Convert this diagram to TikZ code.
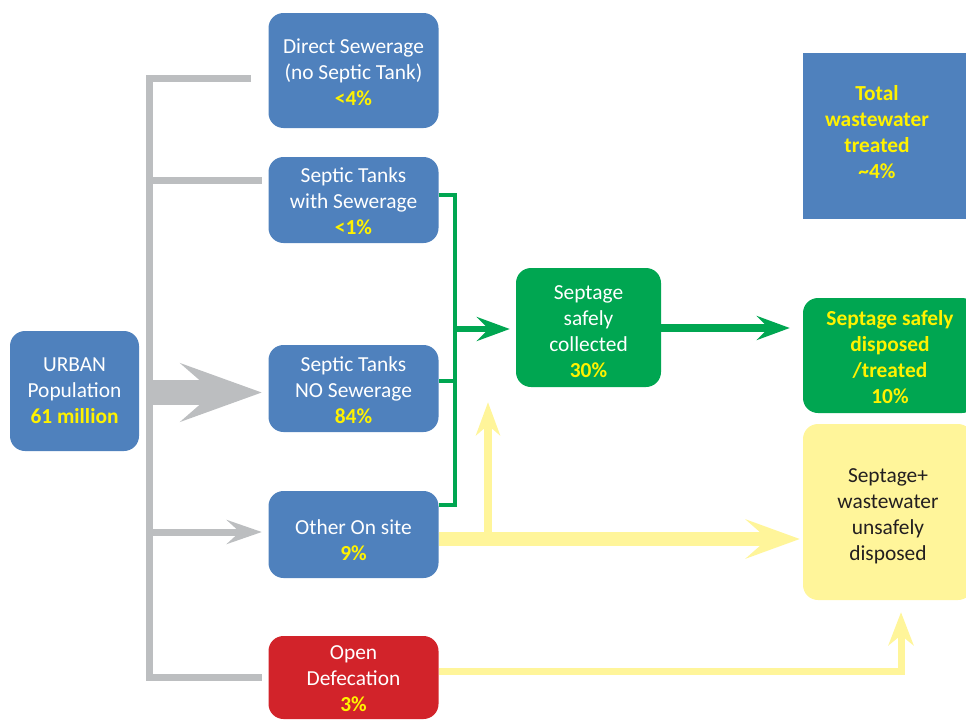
\documentclass[tikz,border=0pt]{standalone}
\usepackage{fontspec}
\setmainfont{Carlito}
\usetikzlibrary{arrows.meta}
\definecolor{boxblue}{HTML}{4F81BD}
\definecolor{boxgreen}{HTML}{00A651}
\definecolor{boxred}{HTML}{D2232A}
\definecolor{paleyellow}{HTML}{FFF59A}
\definecolor{brightyellow}{HTML}{FFF200}
\definecolor{linegray}{HTML}{BCBEC0}
\definecolor{darktext}{HTML}{231F20}
\newcommand{\hl}[1]{\textbf{\color{brightyellow}#1}}
\newcommand{\dn}[2]{\raisebox{-#1pt}[\height][\depth]{\begin{tabular}{@{}c@{}}#2\end{tabular}}}
\begin{document}
\begin{tikzpicture}[x=1pt,y=-1pt,
  every node/.style={font=\fontsize{21.4}{26}\selectfont, align=center, inner sep=0pt, text=white},
  rbox/.style={rounded corners=15pt, minimum width=170pt},
  bluebox/.style={rbox, fill=boxblue},
  grayline/.style={draw=linegray, line width=7pt},
  gline/.style={draw=boxgreen, line width=4pt},
  yline/.style={draw=paleyellow, line width=7pt}
]
\useasboundingbox (0,0) rectangle (966,720);
\clip (0,0) rectangle (966,720);

% boxes
\node[bluebox, minimum width=129pt, minimum height=120pt] (urban) at (74.5,391) {URBAN\\Population\\\hl{61 million}};
\node[bluebox, minimum height=115pt] (ds) at (353.5,70.5) {\dn{4}{Direct Sewerage\\(no Septic Tank)\\\hl{<4\%}}};
\node[bluebox, minimum height=86pt] (sts) at (353.5,200) {\dn{3.5}{Septic Tanks\\with Sewerage\\\hl{<1\%}}};
\node[bluebox, minimum height=87pt] (stn) at (353.5,388.5) {\dn{4}{Septic Tanks\\NO Sewerage\\\hl{84\%}}};
\node[bluebox, minimum height=87pt] (oos) at (353.5,534.5) {\dn{8}{Other On site\\\hl{9\%}}};
\node[rbox, fill=boxred, minimum height=83pt] (od) at (353.5,677.5) {\dn{2.5}{Open\\Defecation\\\hl{3\%}}};
\node[rbox, fill=boxgreen, minimum width=145pt, minimum height=119pt] (ssc) at (588.5,327.5) {\dn{6}{Septage\\safely\\collected\\\hl{30\%}}};
\node[rbox, fill=boxgreen, minimum width=174pt, minimum height=115pt] (ssd) at (890,355.5) {\dn{4}{\hl{Septage safely}\\\hl{disposed}\\\hl{/treated}\\\hl{10\%}}};
\node[rbox, fill=paleyellow, minimum width=170pt, minimum height=176pt, text=darktext] (unsafe) at (888,512) {\dn{4}{Septage+\\wastewater\\unsafely\\disposed}};
\node[fill=boxblue, minimum width=163pt, minimum height=166pt] (total) at (884.5,136) {};
\node (totaltxt) at (877,132) {\hl{Total}\\\hl{wastewater}\\\hl{treated}\\\hl{\textasciitilde4\%}};

% gray tree
\coordinate (dsend) at (251,78.5);
\coordinate (trunktop) at (149.5,78.5);
\coordinate (trunkst) at (149.5,180);
\coordinate (trunkbot) at (149.5,677);
\coordinate (trunkbig) at (149.5,392.5);
\coordinate (trunksmall) at (149.5,532);
\draw[grayline] (dsend) -- (trunktop) -- (trunkbot) -- ([xshift=-6.5pt]trunkbot -| od.west);
\draw[grayline] (trunkst) -- ([xshift=-6.5pt]trunkst -| sts.west);
\draw[draw=linegray, line width=25pt, -{Stealth[length=81pt,width=58pt,inset=33pt]}, shorten >=6.5pt] (trunkbig) -- (trunkbig -| stn.west);
\draw[grayline, -{Stealth[length=35pt,width=24pt,inset=13pt]}, shorten >=6.5pt] (trunksmall) -- (trunksmall -| oos.west);

% green connectors
\coordinate (gtop) at (455,195);
\coordinate (gmid) at (455,381);
\coordinate (gbot) at (455,505);
\coordinate (garr) at (455,329);
\coordinate (garr2) at (661,328);
\draw[gline] (gtop -| sts.east) -- (gtop) -- (gbot) -- (gbot -| oos.east);
\draw[gline] (gmid) -- (gmid -| stn.east);
\draw[gline, line width=6pt, -{Stealth[length=33pt,width=24pt,inset=12pt]}, shorten >=6pt] (garr) -- (garr -| ssc.west);
\draw[gline, line width=8pt, -{Stealth[length=33pt,width=24pt,inset=12pt]}, shorten >=13pt] (garr2 -| ssc.east) -- (garr2 -| ssd.west);

% yellow connectors
\coordinate (ybig) at (438.5,539);
\coordinate (yjoin) at (488,539);
\coordinate (ybend) at (901,671.5);
\draw[draw=paleyellow, line width=14pt, -{Stealth[length=54pt,width=39pt,inset=22pt]}, shorten >=3pt] (ybig -| oos.east) -- (ybig -| unsafe.west);
\draw[yline, line width=8pt, -{Stealth[length=33pt,width=24pt,inset=10pt]}, shorten >=15pt] (yjoin) -- (yjoin |- ssc.south);
\draw[yline, -{Stealth[length=33pt,width=25pt,inset=10pt]}, shorten >=12pt] (ybend -| od.east) -- (ybend) -- (ybend |- unsafe.south);
\end{tikzpicture}
\end{document}
